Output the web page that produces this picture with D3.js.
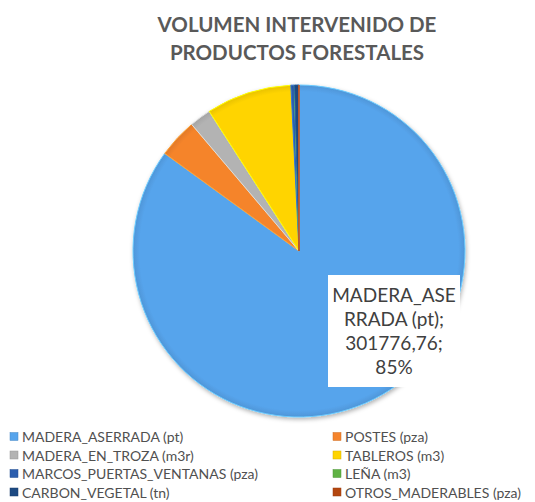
<!DOCTYPE html>
<html>
<head>
<meta charset="utf-8">
<script src="https://cdn.jsdelivr.net/npm/d3@7"></script>
<style>
  body { margin: 0; background: #fff; }
  svg { display: block; font-family: Lato, "Open Sans", sans-serif; }
</style>
</head>
<body>
<svg id="chart" width="535" height="502"></svg>
<script>
// data
var categories = ["MADERA_ASERRADA (pt)", "POSTES (pza)", "MADERA_EN_TROZA (m3r)", "TABLEROS (m3)",
                  "MARCOS_PUERTAS_VENTANAS (pza)", "LEÑA (m3)", "CARBON_VEGETAL (tn)", "OTROS_MADERABLES (pza)"];
var values = [301776.76, 13500, 7450, 29500, 1200, 60, 1500, 20];
var colors = ["#56a4ec", "#f5842c", "#b3b3b3", "#ffd400", "#2b5eae", "#5fb244", "#1d4a82", "#b4470f"];
var titleLines = ["VOLUMEN INTERVENIDO DE", "PRODUCTOS FORESTALES"];

var svg = d3.select("#chart");
var cx = 299, cy = 251, r = 166;

// title
svg.selectAll("text.title")
  .data(titleLines)
  .enter()
  .append("text")
  .attr("class", "title")
  .attr("x", 297)
  .attr("y", function(d, i) { return 32 + i * 28; })
  .attr("text-anchor", "middle")
  .style("font-size", "20.5px")
  .style("font-weight", "bold")
  .style("fill", "#595959")
  .text(function(d) { return d; });

var data = categories.map(function(c, i) { return { name: c, value: values[i], color: colors[i] }; });
var total = d3.sum(values);

var pie = d3.pie().sort(null).value(function(d) { return d.value; });
var arc = d3.arc().innerRadius(0).outerRadius(r);
var arcs = pie(data);

var defs = svg.append("defs");
var shadow = defs.append("filter").attr("id", "shadow").attr("x", "-20%").attr("y", "-20%").attr("width", "140%").attr("height", "140%");
shadow.append("feDropShadow").attr("dx", 1).attr("dy", 2).attr("stdDeviation", 2).attr("flood-opacity", 0.3);

// gradients centred on the pie (coordinates of the translated group)
data.forEach(function(d, i) {
  var g = defs.append("radialGradient")
    .attr("id", "grad" + i)
    .attr("gradientUnits", "userSpaceOnUse")
    .attr("cx", 0).attr("cy", 0).attr("r", r);
  g.append("stop").attr("offset", "0%").attr("stop-color", d.color);
  g.append("stop").attr("offset", "96%").attr("stop-color", d.color);
  g.append("stop").attr("offset", "100%").attr("stop-color", d3.color(d.color).darker(0.25));
});

var pieG = svg.append("g")
  .attr("transform", "translate(" + cx + "," + cy + ")")
  .attr("filter", "url(#shadow)");

pieG.selectAll("path.slice")
  .data(arcs)
  .enter()
  .append("path")
  .attr("class", "slice")
  .attr("d", arc)
  .attr("fill", function(d, i) { return "url(#grad" + i + ")"; })
  .attr("stroke", function(d) { return d3.color(d.data.color).brighter(0.6); })
  .attr("stroke-width", 1);

// data label for the big slice
var first = arcs[0];
var pct = Math.round(first.data.value / total * 100);
var labelLines = ["MADERA_ASE", "RRADA (pt);", d3.format(".2f")(first.data.value).replace(".", ",") + ";", pct + "%"];

var box = svg.append("g").attr("transform", "translate(328,275)");
box.append("rect")
  .attr("width", 132)
  .attr("height", 112)
  .attr("fill", "#fff");
box.selectAll("text")
  .data(labelLines)
  .enter()
  .append("text")
  .attr("x", 66)
  .attr("y", function(d, i) { return 27 + i * 24; })
  .attr("text-anchor", "middle")
  .style("font-size", "19px")
  .style("fill", "#404040")
  .text(function(d) { return d; });

// legend
var legend = svg.append("g").attr("class", "legend");
var items = legend.selectAll("g.item")
  .data(data)
  .enter()
  .append("g")
  .attr("class", "item")
  .attr("transform", function(d, i) {
    var col = i % 2, row = Math.floor(i / 2);
    return "translate(" + (col ? 333 : 10) + "," + (437 + row * 18.5) + ")";
  });
items.append("rect")
  .attr("x", 0).attr("y", -4.5)
  .attr("width", 8).attr("height", 8)
  .attr("fill", function(d) { return d.color; })
  .attr("stroke", function(d) { return d3.color(d.color).darker(0.5); })
  .attr("stroke-width", 0.5);
items.append("text")
  .attr("x", 12)
  .attr("y", 5)
  .style("font-size", "14px")
  .style("fill", "#505050")
  .text(function(d) { return d.name; });
</script>
</body>
</html>
